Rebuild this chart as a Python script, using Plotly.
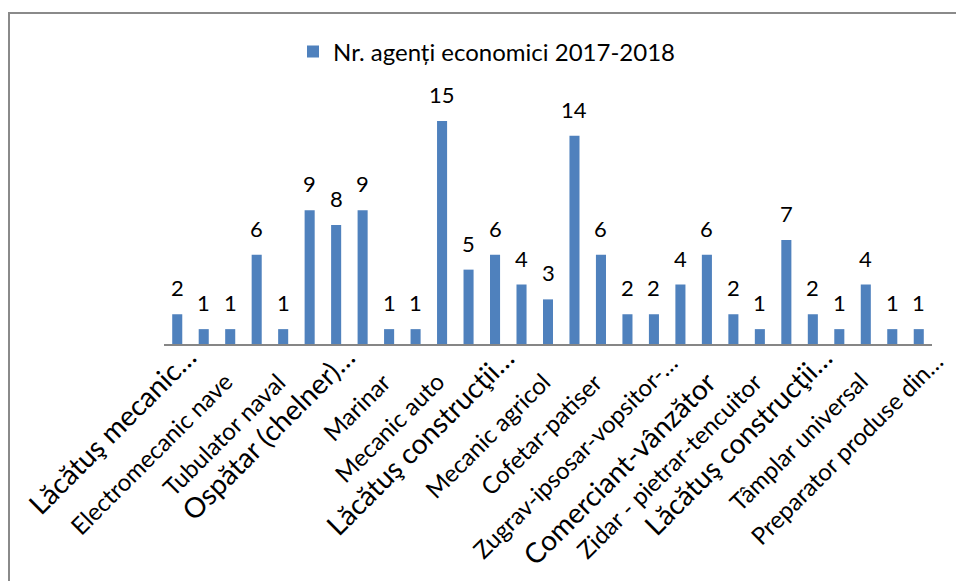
import plotly.graph_objects as go

# Number of economic agents per trade, 2017-2018
values = [2, 1, 1, 6, 1, 9, 8, 9, 1, 1, 15, 5, 6, 4, 3, 14, 6, 2, 2, 4, 6, 2, 1, 7, 2, 1, 4, 1, 1]
positions = list(range(len(values)))

# Category labels (every second category is labelled)
tick_positions = list(range(0, len(values), 2))
tick_labels = [
    "Lăcătuş mecanic…",
    "Electromecanic nave",
    "Tubulator naval",
    "Ospătar (chelner)…",
    "Marinar",
    "Mecanic auto",
    "Lăcătuş construcţii…",
    "Mecanic agricol",
    "Cofetar-patiser",
    "Zugrav-ipsosar-vopsitor-…",
    "Comerciant-vânzător",
    "Zidar - pietrar-tencuitor",
    "Lăcătuş construcţii…",
    "Tâmplar universal",
    "Preparator produse din…",
]
series_name = "Nr. agenți economici 2017-2018"

# labels typed in a larger font
LARGE = {0, 3, 6, 10, 12}
SMALL_PX, LARGE_PX = 24, 28

# pixel offsets of the rotated labels: (large font?, truncated?) -> (dx, dy)
LABEL_SHIFT = {
    (False, False): (10, -20),
    (True, False): (18, -18),
    (False, True): (32, 0),
    (True, True): (28, 7),
}

W, H = 956, 581
ML, MR, MT, MB = 164, 24, 106, 237
pw, ph = W - ML - MR, H - MT - MB


def px_to_paper(x, y):
    return (x - ML) / pw, (H - MB - y) / ph


fig = go.Figure(
    go.Bar(
        x=positions,
        y=values,
        name=series_name,
        marker=dict(color="#4F81BD", line=dict(width=0)),
        showlegend=True,
        hoverinfo="x+y",
    )
)

# value labels above each bar
for x, v in zip(positions, values):
    fig.add_annotation(
        x=x,
        y=v,
        text=str(v),
        showarrow=False,
        xanchor="center",
        yanchor="bottom",
        yshift=11,
        font=dict(family="Lato", size=22, color="#000000"),
    )

# rotated category labels hanging below the axis
for i, (pos, label) in enumerate(zip(tick_positions, tick_labels)):
    large = i in LARGE
    truncated = label.endswith("…")
    size = LARGE_PX if large else SMALL_PX
    xs, ys = LABEL_SHIFT[(large, truncated)]
    fig.add_annotation(
        x=pos,
        y=0,
        xref="x",
        yref="y",
        text=label,
        textangle=-45,
        showarrow=False,
        xanchor="right",
        yanchor="top",
        xshift=xs,
        yshift=ys,
        font=dict(family="Lato", size=size, color="#000000"),
    )

bx0, by1 = px_to_paper(9, 13)
bx1, by0 = px_to_paper(975, 600)

fig.update_layout(
    width=W,
    height=H,
    margin=dict(l=ML, r=MR, t=MT, b=MB, autoexpand=False),
    paper_bgcolor="white",
    plot_bgcolor="white",
    bargap=0.62,
    font=dict(family="Lato", color="#000000"),
    showlegend=True,
    legend=dict(
        orientation="h",
        xref="container",
        yref="container",
        x=487 / W,
        y=1 - 52 / H,
        xanchor="center",
        yanchor="middle",
        font=dict(family="Lato", size=24, color="#000000"),
        itemwidth=30,
    ),
    xaxis=dict(
        range=[-0.5, len(values) - 0.5],
        showticklabels=False,
        showline=True,
        linecolor="#868686",
        linewidth=1.5,
        ticks="",
        showgrid=False,
        zeroline=False,
    ),
    yaxis=dict(
        range=[0, 16],
        visible=False,
        showgrid=False,
        zeroline=False,
    ),
    shapes=[
        dict(
            type="rect",
            xref="paper",
            yref="paper",
            x0=bx0,
            x1=bx1,
            y0=by0,
            y1=by1,
            line=dict(color="#8a8a8a", width=2),
            fillcolor="rgba(0,0,0,0)",
            layer="above",
        )
    ],
)

fig.write_html("out.html")
